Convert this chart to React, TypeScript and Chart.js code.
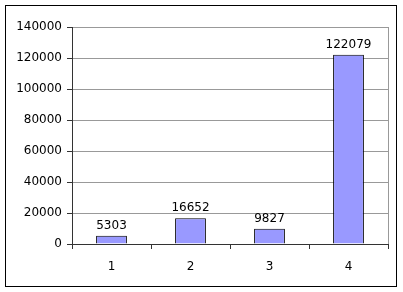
import React, { useEffect, useRef } from "react";
import { Chart, registerables } from "chart.js";

Chart.register(...registerables);

const categories = ["1", "2", "3", "4"];
const values = [5303, 16652, 9827, 122079];
const yTicks = [0, 20000, 40000, 60000, 80000, 100000, 120000, 140000];

const FONT = "'DejaVu Sans', Verdana, sans-serif";

const frameAndLabels = {
  id: "frameAndLabels",
  beforeDraw(chart: any) {
    const ctx = chart.ctx;
    ctx.save();
    ctx.fillStyle = "#ffffff";
    ctx.fillRect(0, 0, chart.width, chart.height);
    ctx.strokeStyle = "#000000";
    ctx.lineWidth = 1;
    ctx.strokeRect(5.5, 5.5, 391, 281);
    ctx.restore();
  },
  beforeDatasetsDraw(chart: any) {
    const ctx = chart.ctx;
    const a = chart.chartArea;
    ctx.save();
    ctx.strokeStyle = "#999999";
    ctx.lineWidth = 1;
    ctx.beginPath();
    const x = Math.round(a.right) + 0.5;
    ctx.moveTo(x, a.top);
    ctx.lineTo(x, a.bottom);
    ctx.stroke();
    ctx.restore();
  },
  afterDatasetsDraw(chart: any) {
    const ctx = chart.ctx;
    const meta = chart.getDatasetMeta(0);
    ctx.save();
    ctx.fillStyle = "#000000";
    ctx.font = "12px " + FONT;
    ctx.textAlign = "center";
    ctx.textBaseline = "alphabetic";
    meta.data.forEach((bar: any, i: number) => {
      ctx.fillText(String(values[i]), bar.x, bar.y - 7);
    });
    ctx.restore();
  },
};

export default function App() {
  const ref = useRef<HTMLCanvasElement | null>(null);
  useEffect(() => {
    if (!ref.current) return;
    const chart = new Chart(ref.current, {
      type: "bar",
      data: {
        labels: categories,
        datasets: [
          {
            data: values,
            backgroundColor: "#9999ff",
            borderColor: "#000000",
            borderWidth: 1,
            categoryPercentage: 0.39,
            barPercentage: 1,
          },
        ],
      },
      options: {
        animation: false,
        responsive: false,
        maintainAspectRatio: false,
        devicePixelRatio: 1,
        layout: { padding: { left: 0, right: 15, top: 27, bottom: 0 } },
        plugins: {
          legend: { display: false },
          tooltip: { enabled: false },
        },
        scales: {
          x: {
            offset: true,
            grid: {
              offset: true,
              drawOnChartArea: false,
              drawTicks: true,
              tickLength: 5,
              tickColor: "#333333",
            },
            border: { color: "#333333", width: 1 },
            ticks: {
              color: "#000000",
              font: { family: FONT, size: 12 },
              padding: 11,
              maxRotation: 0,
            },
            afterFit(axis: any) {
              axis.height = 48;
            },
          },
          y: {
            min: 0,
            max: 140000,
            afterBuildTicks(axis: any) {
              axis.ticks = yTicks.map((v) => ({ value: v }));
            },
            grid: {
              color: "#999999",
              tickColor: "#333333",
              tickLength: 5,
              drawTicks: true,
            },
            border: { color: "#333333", width: 1 },
            ticks: {
              color: "#000000",
              font: { family: FONT, size: 12 },
              padding: 5,
              callback: (v: any) => String(v),
            },
            afterFit(axis: any) {
              axis.width = 72;
            },
          },
        },
      },
      plugins: [frameAndLabels],
    });
    return () => chart.destroy();
  }, []);
  return (
    <div style={{ position: "fixed", left: 0, top: 0, width: 403, height: 292, background: "#fff" }}>
      <canvas ref={ref} width={403} height={292} style={{ display: "block", width: 403, height: 292 }} />
    </div>
  );
}
